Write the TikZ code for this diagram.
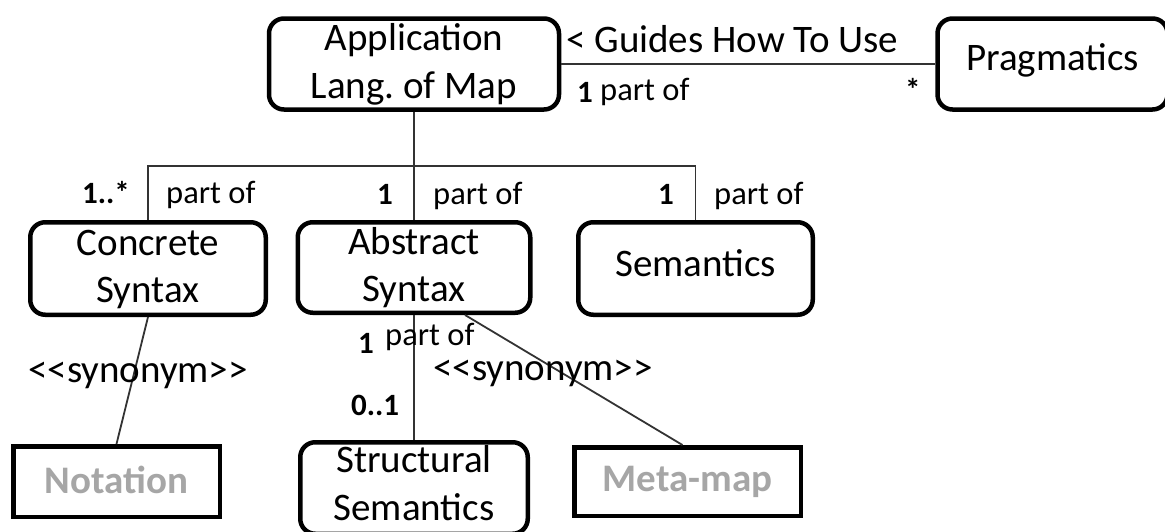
\documentclass[tikz,border=0pt]{standalone}
\usepackage{fontspec}
\setmainfont{Carlito}
\frenchspacing
\definecolor{txtgray}{RGB}{166,166,166}
\tikzset{
  box/.style={draw, line width=4.5pt, rounded corners=15pt, align=center, inner sep=0pt, font=\fontsize{39}{47.5}\selectfont},
  sqbox/.style={draw, line width=4.5pt, sharp corners, inner sep=0pt, font=\fontsize{39}{47}\selectfont\bfseries, text=txtgray},
  tb/.style 2 args={text height=#1, text depth=#2},
  conn/.style={line width=1.8pt, draw=black!80},
  lbl/.style={inner sep=0pt, anchor=base west, font=\fontsize{39}{47}\selectfont},
  role/.style={inner sep=0pt, anchor=base west, font=\fontsize{32.5}{38}\selectfont},
  mult/.style={inner sep=0pt, anchor=base west, font=\fontsize{31}{37}\selectfont\bfseries},
}
\begin{document}
\begin{tikzpicture}[x=1pt,y=-1pt]
\useasboundingbox (0,0) rectangle (1165,531);
% boxes
\node[box, tb={74pt}{6pt}, minimum width=290pt, minimum height=91pt] (app) at (414,64) {Application\\Lang. of Map};
\node[box, tb={12pt}{0pt}, minimum width=230pt, minimum height=91pt] (prag) at (1052.5,64) {Pragmatics};
\node[box, tb={74pt}{6pt}, minimum width=235.5pt, minimum height=92.5pt] (conc) at (148,268.5) {Concrete\\Syntax};
\node[box, tb={74pt}{6pt}, minimum width=232.5pt, minimum height=90.5pt] (abs) at (414,267.5) {Abstract\\Syntax};
\node[box, tb={16.5pt}{0pt}, minimum width=234.5pt, minimum height=92.5pt] (sem) at (695.5,268.5) {Semantics};
\node[sqbox, tb={23.5pt}{0pt}, minimum width=206.5pt, minimum height=70.5pt] (not) at (116.5,481.5) {Notation};
\node[box, tb={74pt}{10pt}, minimum width=227.5pt, minimum height=91.5pt] (struct) at (414,488) {Structural\\Semantics};
\node[sqbox, tb={20.5pt}{0pt}, minimum width=226.5pt, minimum height=68.5pt] (meta) at (687.5,481.5) {Meta-map};
% connectors
\coordinate (j) at (414,166);
\draw[conn] (app.south) -- (j);
\draw[conn] (conc.north) |- (j);
\draw[conn] (j) -| (sem.north);
\draw[conn] (j) -- (abs.north);
\draw[conn] (app.east) -- (prag.west);
\draw[conn] (conc.south) -- (not.north);
\draw[conn] (abs.south) -- (struct.north);
\draw[conn] ([xshift=51pt]abs.south) -- ([xshift=-5pt]meta.north);
% labels
\node[lbl] (guide) at (566,52) {< Guides How To Use};
\node[mult] (m1) at (577,102) {1};
\node[role] (r1) at (600,100) {part of};
\node[mult] (m2) at (905,100) {*};
\node[mult] (m3) at (82,203) {1..*};
\node[role] (r2) at (166,203) {part of};
\node[mult] (m4) at (377,204) {1};
\node[role] (r3) at (433,204) {part of};
\node[mult] (m5) at (658,204) {1};
\node[role] (r4) at (714,204) {part of};
\node[lbl] (s1) at (28,382) {{<}{<}synonym{>}{>}};
\node[lbl] (s2) at (433,380) {{<}{<}synonym{>}{>}};
\node[mult] (m6) at (358,353) {1};
\node[role] (r5) at (385,345) {part of};
\node[mult] (m7) at (351,415) {0..1};
\end{tikzpicture}
\end{document}
